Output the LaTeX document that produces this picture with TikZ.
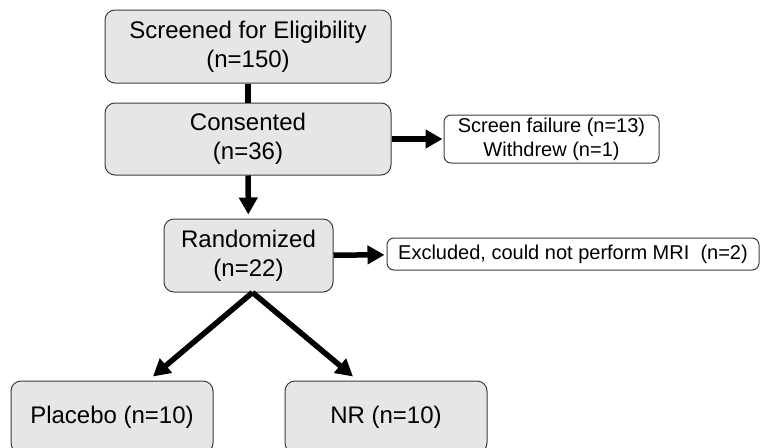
\documentclass[tikz,border=0pt]{standalone}
\usepackage{fontspec}
\setmainfont{Liberation Sans}
\usetikzlibrary{arrows.meta}
\definecolor{boxfill}{HTML}{E6E6E6}
\definecolor{boxline}{HTML}{3C3C3C}
\tikzset{
  bigbox/.style={draw=boxline, line width=1pt, fill=boxfill, rounded corners=10pt,
    align=center, inner sep=0pt, minimum height=72pt,
    font=\fontsize{24}{29}\selectfont},
  smallbox/.style={draw=boxline, line width=1pt, fill=white, rounded corners=7pt,
    align=center, inner sep=0pt, font=\fontsize{20}{24}\selectfont},
  link/.style={line width=5.5pt},
  flow/.style={line width=5.5pt, -{Triangle[length=17pt,width=18pt]}},
}
\begin{document}
\begin{tikzpicture}[x=1pt, y=-1pt]
  \useasboundingbox (0,0) rectangle (762,447);
  % boxes
  \node[bigbox, minimum width=286pt, minimum height=73pt] (screen) at (248,46.5) {Screened for Eligibility\\(n=150)};
  \node[bigbox, minimum width=286pt] (consent) at (248,139) {Consented\\(n=36)};
  \node[smallbox, minimum width=215pt, minimum height=48pt] (fail) at (551.5,139) {Screen failure (n=13)\\Withdrew (n=1)};
  \node[bigbox, minimum width=169pt, minimum height=73pt] (rand) at (248.5,255.5) {Randomized\\(n=22)};
  \node[smallbox, minimum width=372pt, minimum height=32pt] (excl) at (573,254) {Excluded, could not perform MRI~~(n=2)};
  \node[bigbox, minimum width=202pt] (placebo) at (112,417) {Placebo (n=10)};
  \node[bigbox, minimum width=202pt] (nr) at (386,417) {NR (n=10)};
  % connectors
  \draw[link] (screen) -- (consent);
  \draw[flow, shorten >=1pt] (consent) -- (fail);
  \draw[flow, shorten >=4pt] (consent) -- (rand);
  \draw[flow, shorten >=2pt] (rand) -- (excl);
  \draw[flow] ([xshift=4pt]rand.south) -- ([xshift=41pt, yshift=4pt]placebo.north);
  \draw[flow] ([xshift=4pt]rand.south) -- ([xshift=-33pt, yshift=4pt]nr.north);
\end{tikzpicture}
\end{document}
